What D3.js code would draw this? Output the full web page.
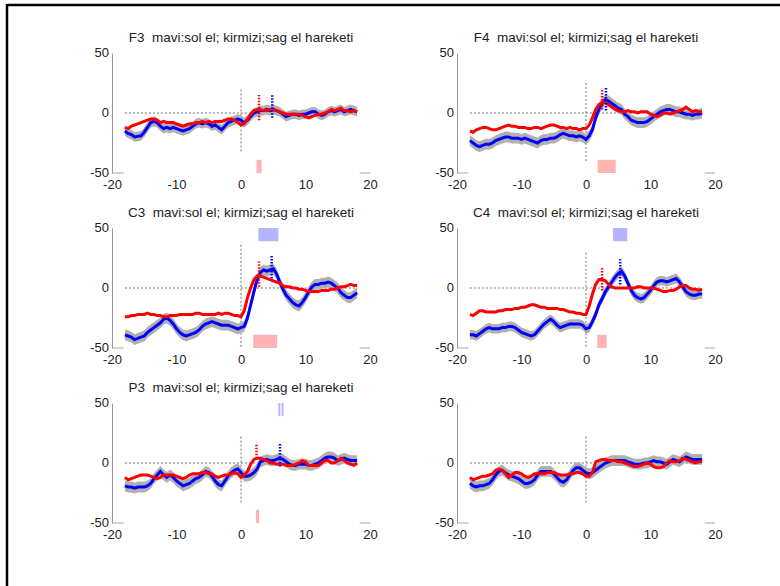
<!DOCTYPE html>
<html>
<head>
<meta charset="utf-8">
<script src="https://cdn.jsdelivr.net/npm/d3@7"></script>
<style>
  body { margin: 0; background: #fff; }
  svg { display: block; }
  text { font-family: "Liberation Sans", Arial, sans-serif; fill: #222; }
</style>
</head>
<body>
<svg id="chart" width="780" height="586"></svg>
<script>
// time axis (s), sampled every 0.5
var time = [-18,-17.5,-17,-16.5,-16,-15.5,-15,-14.5,-14,-13.5,-13,-12.5,-12,-11.5,-11,-10.5,-10,-9.5,-9,-8.5,-8,-7.5,-7,-6.5,-6,-5.5,-5,-4.5,-4,-3.5,-3,-2.5,-2,-1.5,-1,-0.5,0,0.5,1,1.5,2,2.5,3,3.5,4,4.5,5,5.5,6,6.5,7,7.5,8,8.5,9,9.5,10,10.5,11,11.5,12,12.5,13,13.5,14,14.5,15,15.5,16,16.5,17,17.5,18];

// mavi = sol el (blue), kirmizi = sag el (red)
var f3Blue = [-15,-17,-18,-20,-19.5,-19,-16,-12,-8,-7,-8,-11,-13,-12,-13,-12,-13,-14,-15,-14,-13,-11,-9,-8,-9,-8,-9,-11,-10,-12,-14,-11,-8,-7,-6,-5,-6,-8,-6,-3,0,1,2,2,3,2,3,2,1,-1,-3,-2,-1,-1,-2,-1,-1,0,1,1,-1,-2,-1,1,2,1,2,3,1,2,3,2,1];
var f3Red = [-12,-13,-11,-10,-9,-8,-7,-6,-5,-5,-6,-8,-7,-8,-8,-8,-9,-10,-11,-10,-9,-9,-8,-8,-7,-8,-7,-8,-7,-7,-7,-6,-5,-5,-6,-8,-10,-9,-5,-1,2,3,3,2,2,3,3,2,1,0,-1,-1,-1,-1,-1,-2,-3,-4,-3,-2,-1,-1,0,1,3,2,3,4,2,2,1,2,1];

var f4Blue = [-23,-25,-27,-28,-27,-26,-26,-25,-23,-22,-21,-20,-20,-21,-21,-21,-22,-21,-22,-23,-24,-25,-23,-22,-22,-21,-21,-20,-18,-17,-18,-19,-19,-20,-19,-20,-22,-19,-14,-4,3,8,11,10,8,6,4,3,-1,-3,-6,-7,-8,-8,-8,-7,-5,-3,-1,1,2,3,3,2,1,1,0,-1,-1,-2,-1,-1,0];
var f4Red = [-15,-16,-14,-13,-12,-12,-13,-14,-14,-13,-12,-11,-10,-11,-11,-12,-12,-12,-13,-13,-12,-12,-13,-12,-11,-10,-10,-11,-12,-12,-13,-12,-13,-13,-14,-13,-13,-10,-4,3,7,9,9,7,5,3,2,1,1,2,1,1,0,1,1,1,-1,-2,-3,-2,0,0,-1,0,1,2,3,5,3,1,2,1,1];

var c3Blue = [-39,-40,-41,-43,-42,-41,-40,-37,-35,-33,-31,-29,-26,-25,-27,-30,-34,-37,-39,-40,-39,-38,-37,-35,-32,-30,-29,-28,-29,-30,-31,-31,-31,-32,-33,-34,-33,-32,-25,-14,-3,7,13,15,14,15,16,12,5,-1,-6,-9,-12,-14,-15,-12,-8,-3,1,3,3,4,4,5,4,2,0,-4,-6,-8,-8,-6,-4];
var c3Red = [-24,-24,-23,-23,-22,-22,-22,-21,-22,-22,-23,-23,-24,-24,-23,-23,-23,-22,-22,-22,-22,-22,-21,-21,-22,-22,-22,-22,-22,-21,-22,-21,-21,-22,-23,-23,-24,-19,-8,0,7,10,10,9,8,7,6,5,4,2,1,1,0,0,-1,-1,-2,-3,-3,-3,-3,-2,-2,-2,-1,-1,0,1,1,2,3,2,2];

var c4Blue = [-39,-39,-40,-38,-36,-34,-33,-34,-34,-34,-33,-33,-32,-32,-33,-35,-37,-38,-39,-40,-39,-36,-33,-30,-28,-26,-28,-31,-33,-32,-31,-30,-30,-30,-30,-31,-34,-33,-28,-22,-14,-9,-3,1,5,9,12,14,10,4,-2,-6,-8,-9,-8,-5,-2,2,5,6,6,5,6,7,8,5,1,-3,-5,-6,-6,-5,-5];
var c4Red = [-22,-23,-21,-19,-19,-20,-20,-20,-20,-19,-19,-18,-18,-18,-17,-17,-16,-16,-15,-14,-14,-15,-16,-16,-17,-17,-17,-17,-18,-18,-19,-20,-20,-21,-21,-22,-22,-15,-5,3,7,7,6,3,1,0,0,0,0,0,0,0,1,1,0,0,0,0,-1,-2,-3,-3,-2,-2,-1,1,2,2,0,-1,-1,-2,-1];

var p3Blue = [-19,-20,-20,-21,-20,-20,-20,-19,-17,-13,-10,-7,-10,-12,-10,-12,-15,-17,-19,-18,-17,-15,-13,-12,-10,-7,-8,-11,-15,-18,-19,-15,-11,-8,-6,-5,-8,-11,-11,-10,-8,-5,1,2,3,2,2,3,4,3,1,-1,-2,-2,-1,-1,-1,-2,-2,-1,0,2,4,5,5,4,2,3,4,3,2,2,2];
var p3Red = [-12,-14,-13,-12,-11,-10,-10,-10,-11,-12,-13,-12,-10,-10,-10,-10,-11,-12,-13,-12,-10,-9,-9,-9,-8,-8,-9,-9,-11,-12,-11,-10,-10,-9,-8,-9,-12,-10,-7,-1,3,4,4,3,2,0,0,-1,-1,-1,-2,-2,-2,-1,0,2,1,-2,-2,-2,-2,0,2,2,0,0,2,4,2,0,-1,-2,0];

var p6Blue = [-17,-19,-20,-19,-19,-18,-17,-14,-10,-7,-6,-8,-10,-11,-12,-13,-15,-17,-17,-16,-14,-10,-7,-7,-7,-7,-9,-12,-15,-16,-14,-10,-6,-4,-4,-6,-8,-9,-8,-6,-4,-2,0,1,2,2,2,2,2,1,0,-1,-1,-1,0,0,1,2,1,1,0,-1,1,3,2,1,3,5,4,3,3,3,3];
var p6Red = [-12,-14,-13,-12,-11,-11,-10,-9,-6,-5,-6,-9,-12,-10,-8,-8,-9,-11,-12,-11,-9,-9,-9,-9,-8,-8,-8,-9,-10,-10,-10,-9,-9,-8,-8,-9,-11,-11,-8,1,2,3,3,2,2,2,1,1,0,-1,-2,-3,-3,-2,-1,0,-1,-3,-4,-4,-3,0,2,1,1,2,4,3,2,1,0,1,1];

var titles = [
  "F3  mavi:sol el; kirmizi;sag el hareketi",
  "F4  mavi:sol el; kirmizi;sag el hareketi",
  "C3  mavi:sol el; kirmizi;sag el hareketi",
  "C4  mavi:sol el; kirmizi;sag el hareketi",
  "P3  mavi:sol el; kirmizi;sag el hareketi",
  ""
];
var xTicks = [-20, -10, 0, 10, 20];
var yTicks = [-50, 0, 50];

// standard error of blue curve (shaded band)
var blueSE = [4, 4.5, 4.5, 4, 4.5, 4.5];
// extent of the vertical onset line at t = 0
var onsetSpan = [[-32, 20], [-40, 27], [-49, 36], [-49, 31], [-33, 22], [-33, 22]];
// peak latency markers [t, low, high]
var redPeaks = [[2.8, -6, 15], [2.5, 3, 19], [2.8, 1, 22], [2.5, -2, 18], [2.4, 4, 16], null];
var bluePeaks = [[4.85, -4, 16], [3.1, 2, 22], [4.75, 8, 28], [5.3, 3, 24], [6.05, -3, 16], null];
// significant windows [t0, t1]
var redSig = [[[2.4, 3.2]], [[1.8, 4.6]], [[1.9, 5.6]], [[1.75, 3.2]], [[2.3, 2.8]], []];
var blueSig = [[], [], [[2.7, 5.8]], [[4.2, 6.4]], [[5.8, 6.1], [6.3, 6.6]], []];

var blues = [f3Blue, f4Blue, c3Blue, c4Blue, p3Blue, p6Blue];
var reds = [f3Red, f4Red, c3Red, c4Red, p3Red, p6Red];

var svg = d3.select("#chart");

// figure frame (top and left edges only)
svg.append("line").attr("x1", 7).attr("x2", 780).attr("y1", 5).attr("y2", 5)
  .attr("stroke", "#000").attr("stroke-width", 2.5);
svg.append("line").attr("x1", 7).attr("x2", 7).attr("y1", 4).attr("y2", 586)
  .attr("stroke", "#000").attr("stroke-width", 2.5);

var colX = [112, 457];
var rowY = [53, 228, 403];
var pw = 258, ph = 120;
var plain = function (d) { return String(d); };   // hyphen minus like matlab

blues.forEach(function (blue, p) {
  var red = reds[p];
  var x0 = colX[p % 2], y0 = rowY[Math.floor(p / 2)];
  var x = d3.scaleLinear().domain([-20, 20]).range([x0, x0 + pw]);
  var y = d3.scaleLinear().domain([-50, 50]).range([y0 + ph, y0]);
  var g = svg.append("g");

  // y axis (no ticks, gray line)
  var yAxis = d3.axisLeft(y).tickValues(yTicks).tickSize(0).tickPadding(3).tickFormat(plain);
  var ya = g.append("g").attr("transform", "translate(" + x(-20) + ",0)").call(yAxis);
  ya.select(".domain").attr("stroke", "#999");
  ya.selectAll("text").attr("font-size", 13).attr("fill", "#222").attr("dy", "0.3em");

  // x axis labels only, short gray stubs at both ends
  var xAxis = d3.axisBottom(x).tickValues(xTicks).tickSize(0).tickPadding(7).tickFormat(plain);
  var xa = g.append("g").attr("transform", "translate(0," + y(-50) + ")").call(xAxis);
  xa.select(".domain").remove();
  xa.selectAll("text").attr("font-size", 13).attr("fill", "#222");
  [[-20, -18.2], [18.4, 20]].forEach(function (s) {
    g.append("line").attr("x1", x(s[0])).attr("x2", x(s[1]))
      .attr("y1", y(-50)).attr("y2", y(-50)).attr("stroke", "#aaa");
  });

  // zero reference lines
  g.append("line").attr("x1", x(-18)).attr("x2", x(18))
    .attr("y1", y(0)).attr("y2", y(0))
    .attr("stroke", "#333").attr("stroke-width", 0.7).attr("stroke-dasharray", "2,2");
  g.append("line").attr("x1", x(0)).attr("x2", x(0))
    .attr("y1", y(onsetSpan[p][0])).attr("y2", y(onsetSpan[p][1]))
    .attr("stroke", "#333").attr("stroke-width", 0.7).attr("stroke-dasharray", "2,2");

  // shaded error band around blue
  var se = blueSE[p];
  var band = d3.area()
    .x(function (d, i) { return x(time[i]); })
    .y0(function (d) { return y(d - se); })
    .y1(function (d) { return y(d + se); });
  g.append("path").datum(blue).attr("d", band).attr("fill", "#b0b0b0");

  var line = d3.line().x(function (d, i) { return x(time[i]); }).y(function (d) { return y(d); });
  g.append("path").datum(blue).attr("d", line)
    .attr("fill", "none").attr("stroke", "#0000ff").attr("stroke-width", 3);
  g.append("path").datum(red).attr("d", line)
    .attr("fill", "none").attr("stroke", "#ff0000").attr("stroke-width", 3);

  // peak latency markers
  [[redPeaks[p], "#ff0000"], [bluePeaks[p], "#0000ff"]].forEach(function (pk) {
    if (!pk[0]) return;
    g.append("line").attr("x1", x(pk[0][0])).attr("x2", x(pk[0][0]))
      .attr("y1", y(pk[0][1])).attr("y2", y(pk[0][2]))
      .attr("stroke", pk[1]).attr("stroke-width", 2.5).attr("stroke-dasharray", "1.5,1.5");
  });

  // significance windows
  redSig[p].forEach(function (s) {
    g.append("rect").attr("x", x(s[0])).attr("width", x(s[1]) - x(s[0]))
      .attr("y", y(-39)).attr("height", y(-50) - y(-39)).attr("fill", "#ffb4b4");
  });
  blueSig[p].forEach(function (s) {
    g.append("rect").attr("x", x(s[0])).attr("width", x(s[1]) - x(s[0]))
      .attr("y", y(50)).attr("height", y(39) - y(50)).attr("fill", "#b4b4ff");
  });

  if (titles[p]) {
    g.append("text").attr("x", x(0)).attr("y", y0 - 11)
      .attr("text-anchor", "middle").attr("font-size", 13.5)
      .attr("xml:space", "preserve").style("white-space", "pre")
      .text(titles[p]);
  }
});
</script>
</body>
</html>
